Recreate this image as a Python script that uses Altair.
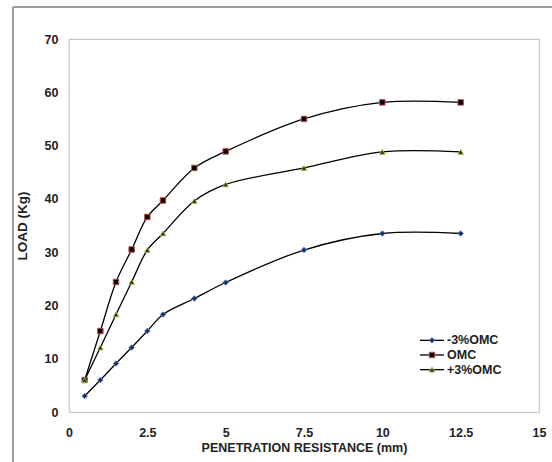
import altair as alt
import pandas as pd

penetration = [0.5, 1, 1.5, 2, 2.5, 3, 4, 5, 7.5, 10, 12.5]
minus3_omc = [3.0, 6.0, 9.1, 12.1, 15.2, 18.3, 21.3, 24.3, 30.4, 33.5, 33.5]
omc = [6.0, 15.2, 24.4, 30.5, 36.6, 39.7, 45.8, 48.9, 55.0, 58.1, 58.1]
plus3_omc = [6.0, 12.1, 18.3, 24.4, 30.4, 33.5, 39.6, 42.7, 45.8, 48.8, 48.8]
x_ticks = [0, 2.5, 5, 7.5, 10, 12.5, 15]
y_ticks = [0, 10, 20, 30, 40, 50, 60, 70]
series_names = ["-3%OMC", "OMC", "+3%OMC"]
shapes = ["diamond", "square", "triangle-up"]
fills = ["#1b2d5c", "#000000", "#1e2a10"]
strokes = ["#4f81bd", "#c0504d", "#9bbb59"]

rows = []
for name, vals in zip(series_names, [minus3_omc, omc, plus3_omc]):
    for x, y in zip(penetration, vals):
        rows.append({"series": name, "pen": x, "load": y})
df = pd.DataFrame(rows)
leg = pd.DataFrame({"series": series_names})

FONT = "Liberation Sans"
FS = 12.5

x_enc = alt.X("pen:Q", scale=alt.Scale(domain=[0, 15], nice=False),
              axis=alt.Axis(values=x_ticks, format=".1~f", title="PENETRATION RESISTANCE (mm)",
                            grid=False, ticks=False, domain=False, labelPadding=14,
                            labelFont=FONT, labelFontSize=FS, labelFontWeight="bold", labelColor="#222222",
                            titleFont=FONT, titleFontSize=12.5, titleFontWeight="bold", titleColor="#222222",
                            titlePadding=3, labelFlush=False))
y_enc = alt.Y("load:Q", scale=alt.Scale(domain=[0, 70], nice=False),
              axis=alt.Axis(values=y_ticks, title="LOAD (Kg)",
                            grid=False, ticks=False, domain=False, labelPadding=11,
                            labelFont=FONT, labelFontSize=FS, labelFontWeight="bold", labelColor="#222222",
                            titleFont=FONT, titleFontSize=13.5, titleFontWeight="bold", titleColor="#222222",
                            titlePadding=15, labelFlush=False))

color_scale = alt.Scale(domain=series_names, range=fills)
stroke_scale = alt.Scale(domain=series_names, range=strokes)
shape_scale = alt.Scale(domain=series_names, range=shapes)

lines = alt.Chart(df).mark_line(color="#000000", strokeWidth=1.3, interpolate="catmull-rom").encode(
    x=x_enc, y=y_enc, detail="series:N")
points = alt.Chart(df).mark_point(filled=True, size=30, strokeWidth=1, opacity=1).encode(
    x="pen:Q", y="load:Q",
    shape=alt.Shape("series:N", scale=shape_scale, legend=None),
    fill=alt.Fill("series:N", scale=color_scale, legend=None),
    stroke=alt.Stroke("series:N", scale=stroke_scale, legend=None))

leg_y = alt.Y("series:N", scale=alt.Scale(domain=series_names, range=[294, 338]), axis=None)
leg_line = alt.Chart(leg).mark_rule(color="#000000", strokeWidth=1.3).encode(
    x=alt.value(351), x2=alt.value(375), y=leg_y)
leg_pt = alt.Chart(leg).mark_point(filled=True, size=30, strokeWidth=1, opacity=1).encode(
    x=alt.value(363), y=leg_y,
    shape=alt.Shape("series:N", scale=shape_scale, legend=None),
    fill=alt.Fill("series:N", scale=color_scale, legend=None),
    stroke=alt.Stroke("series:N", scale=stroke_scale, legend=None))
leg_txt = alt.Chart(leg).mark_text(align="left", baseline="middle", font=FONT, fontSize=FS,
                                   fontWeight="bold", color="#222222").encode(
    x=alt.value(378), y=leg_y, text="series:N")

frame_top = alt.Chart(leg).mark_rule(color="#9a9a9a", strokeWidth=1.5).encode(
    x=alt.value(-56), x2=alt.value(520), y=alt.value(-32))
frame_left = alt.Chart(leg).mark_rule(color="#9a9a9a", strokeWidth=1.5).encode(
    x=alt.value(-56), y=alt.value(-32), y2=alt.value(460))

main = alt.layer(lines, points)
legend_layer = alt.layer(leg_line, leg_pt, leg_txt)

chart = alt.layer(main, legend_layer, frame_top, frame_left).resolve_scale(y="independent").properties(
    width=470, height=373,
    autosize=alt.AutoSizeParams(type="none"),
    padding={"left": 69, "top": 39, "right": 13, "bottom": 50},
    background="#ffffff",
).configure_view(stroke="#c8c8c8", strokeWidth=1.2)

chart.save("out.html", embed_options={"renderer": "svg", "actions": False})
